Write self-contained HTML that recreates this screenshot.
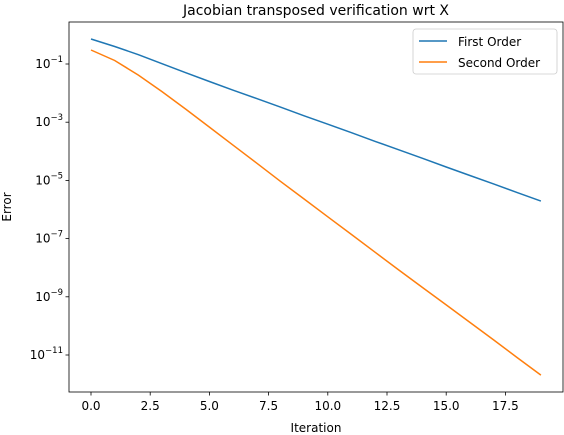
<!DOCTYPE html>
<html><head><meta charset="utf-8"><style>
body{margin:0;background:#fff;}
svg{display:block;font-family:"DejaVu Sans","Liberation Sans",sans-serif;}
</style></head><body>
<svg id="chart" width="564" height="435">
<text x="316" y="15" font-size="14" text-anchor="middle">Jacobian transposed verification wrt X</text>
<rect x="69" y="22" width="494" height="370" fill="none" stroke="#000" stroke-width="0.8"/>
<g id="xt"></g>
<g id="yt"></g>
<g id="series"></g>
<text x="316" y="432" font-size="12" text-anchor="middle">Iteration</text>
<text transform="translate(11,207) rotate(-90)" font-size="12" text-anchor="middle">Error</text>
<g>
<rect x="413" y="29" width="144" height="45" rx="3" fill="#fff" stroke="#ccc" stroke-width="0.8"/>
<line x1="419" y1="41" x2="447" y2="41" stroke="#1f77b4" stroke-width="1.5"/>
<text x="458" y="46" font-size="12">First Order</text>
<line x1="419" y1="62" x2="447" y2="62" stroke="#ff7f0e" stroke-width="1.5"/>
<text x="458" y="67" font-size="12">Second Order</text>
</g>
</svg>
<script>
const iterations=[0,1,2,3,4,5,6,7,8,9,10,11,12,13,14,15,16,17,18,19];
const firstOrderLog=[-0.14,-0.40,-0.68,-0.99,-1.30,-1.60,-1.90,-2.19,-2.48,-2.78,-3.07,-3.36,-3.66,-3.95,-4.24,-4.54,-4.83,-5.12,-5.42,-5.71];
const secondOrderLog=[-0.52,-0.88,-1.38,-1.95,-2.55,-3.17,-3.79,-4.41,-5.03,-5.64,-6.25,-6.86,-7.47,-8.08,-8.68,-9.28,-9.88,-10.48,-11.09,-11.69];
const xTicks=[0,2.5,5,7.5,10,12.5,15,17.5];
const xTickLabels=["0.0","2.5","5.0","7.5","10.0","12.5","15.0","17.5"];
const yTicks=[-1,-3,-5,-7,-9,-11];
const NS="http://www.w3.org/2000/svg";
const sx=v=>91+v*23.68;
const sy=l=>64-(l+1)*29.1;
function mk(tag,attrs,parent){const e=document.createElementNS(NS,tag);for(const k in attrs)e.setAttribute(k,attrs[k]);parent.appendChild(e);return e;}
const xt=document.getElementById('xt'),yt=document.getElementById('yt'),sg=document.getElementById('series');
xTicks.forEach((v,i)=>{
 const l=mk('line',{x1:sx(v),x2:sx(v),y1:392,y2:395.5,stroke:'#000','stroke-width':0.8},xt);
 
 
 const t=mk('text',{x:sx(v),y:410,'font-size':12,'text-anchor':'middle'},xt);
 t.textContent=xTickLabels[i];
 
 
});
yTicks.forEach(v=>{
 const l=mk('line',{x1:65.5,x2:69,y1:sy(v),y2:sy(v),stroke:'#000','stroke-width':0.8},yt);
 
 
 const t=mk('text',{x:63,y:sy(v)+4,'font-size':12,'text-anchor':'end'},yt);
 t.innerHTML='10<tspan dy="-6" font-size="8.5">'+(v<0?'\u2212':'')+Math.abs(v)+'</tspan>';
 
 
});
function line(vals,color,name){
 const d=vals.map((v,i)=>(i?'L':'M')+sx(iterations[i]).toFixed(1)+','+sy(v).toFixed(1)).join('');
 const p=mk('path',{d:d,fill:'none',stroke:color,'stroke-width':1.5},sg);
 
 
}
line(firstOrderLog,'#1f77b4','first-order-line');
line(secondOrderLog,'#ff7f0e','second-order-line');
</script>
</body></html>
